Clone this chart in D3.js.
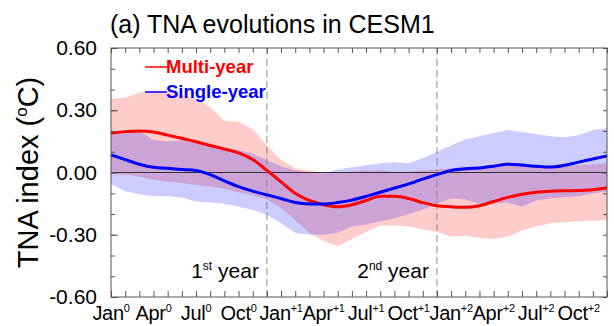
<!DOCTYPE html>
<meta charset="utf-8">
<style>
  body { margin: 0; background: #fff; }
  text { font-family: "Liberation Sans", Arial, Helvetica, sans-serif; }
</style>
<svg width="614" height="326"></svg>
<script src="https://d3js.org/d3.v7.min.js"></script>
<script>

// months 0..35 : Jan0 .. Dec+2
var multiYear = [0.19, 0.197, 0.20, 0.195, 0.18, 0.165, 0.148, 0.13, 0.113, 0.095, 0.063, 0.01,
  -0.045, -0.10, -0.135, -0.155, -0.165, -0.155, -0.135, -0.115, -0.115, -0.125, -0.145, -0.16,
  -0.165, -0.168, -0.16, -0.14, -0.12, -0.105, -0.095, -0.09, -0.088, -0.087, -0.083, -0.075];
var multiUpper = [0.355, 0.36, 0.385, 0.395, 0.39, 0.375, 0.355, 0.315, 0.25, 0.245, 0.21, 0.13,
  0.06, 0.02, 0.01, 0.0, -0.005, 0.005, 0.01, 0.01, 0.005, 0.005, 0.01, 0.015,
  0.02, 0.025, 0.03, 0.04, 0.05, 0.045, 0.035, 0.03, 0.03, 0.035, 0.04, 0.045];
var multiLower = [-0.005, -0.01, -0.02, -0.035, -0.045, -0.05, -0.06, -0.068, -0.08, -0.095, -0.11, -0.13,
  -0.17, -0.23, -0.29, -0.33, -0.355, -0.32, -0.285, -0.255, -0.255, -0.26, -0.275, -0.285,
  -0.31, -0.305, -0.315, -0.32, -0.31, -0.28, -0.26, -0.245, -0.24, -0.235, -0.232, -0.228];

var singleYear = [0.085, 0.062, 0.04, 0.025, 0.02, 0.015, 0.01, -0.01, -0.04, -0.068, -0.09, -0.108,
  -0.125, -0.145, -0.152, -0.152, -0.145, -0.133, -0.115, -0.095, -0.075, -0.055, -0.032, -0.01,
  0.01, 0.018, 0.022, 0.03, 0.04, 0.036, 0.03, 0.026, 0.035, 0.05, 0.065, 0.08];
var singleUpper = [0.195, 0.19, 0.2, 0.155, 0.15, 0.155, 0.14, 0.125, 0.118, 0.11, 0.09, 0.06,
  0.03, 0.01, 0.0, -0.005, 0.015, 0.025, 0.035, 0.045, 0.05, 0.045, 0.07, 0.1,
  0.13, 0.16, 0.175, 0.19, 0.205, 0.195, 0.185, 0.175, 0.17, 0.18, 0.205, 0.213];
var singleLower = [-0.055, -0.09, -0.105, -0.115, -0.115, -0.12, -0.14, -0.145, -0.15, -0.165, -0.18, -0.205,
  -0.245, -0.29, -0.3, -0.3, -0.29, -0.26, -0.25, -0.235, -0.22, -0.2, -0.18, -0.15,
  -0.125, -0.13, -0.15, -0.15, -0.145, -0.165, -0.135, -0.125, -0.118, -0.115, -0.1, -0.092];

var monthNames = ["Jan", "Apr", "Jul", "Oct"];
var yearSups = ["0", "+1", "+2"];
var yTicks = [-0.6, -0.3, 0, 0.3, 0.6];
var yearEnds = [11, 23];          // Dec0, Dec+1 dividers
var yearNames = [["1", "st"], ["2", "nd"]];

var svg = d3.select("svg"),
    margin = {top: 48, right: 7, bottom: 29, left: 111},
    width = +svg.attr("width") - margin.left - margin.right,
    height = +svg.attr("height") - margin.top - margin.bottom,
    g = svg.append("g").attr("transform", "translate(" + margin.left + "," + margin.top + ")");

var x = d3.scaleLinear().domain([0, 35]).range([0, width]);
var y = d3.scaleLinear().domain([-0.6, 0.6]).range([height, 0]);

var months = d3.range(multiYear.length);

var band = function(up, lo) {
  return d3.area()
    .x(function(i) { return x(i); })
    .y0(function(i) { return y(lo[i]); })
    .y1(function(i) { return y(up[i]); });
};
var line = function(v) {
  return d3.line()
    .x(function(i) { return x(i); })
    .y(function(i) { return y(v[i]); })
    .curve(d3.curveMonotoneX);
};

g.append("path").datum(months)
    .attr("fill", "#ff0000").attr("fill-opacity", 0.2)
    .attr("d", band(multiUpper, multiLower));
g.append("path").datum(months)
    .attr("fill", "#0000ff").attr("fill-opacity", 0.2)
    .attr("d", band(singleUpper, singleLower));

// zero line
g.append("line")
    .attr("x1", 0).attr("x2", width)
    .attr("y1", y(0)).attr("y2", y(0))
    .attr("stroke", "#333").attr("stroke-width", 1);

// year dividers
g.selectAll(".divider").data(yearEnds).enter().append("line")
    .attr("x1", function(d) { return x(d); }).attr("x2", function(d) { return x(d); })
    .attr("y1", 0).attr("y2", height)
    .attr("stroke", "#888").attr("stroke-width", 1)
    .attr("stroke-dasharray", "7,4");

g.append("path").datum(months)
    .attr("fill", "none").attr("stroke", "#ff0000").attr("stroke-width", 3)
    .attr("d", line(multiYear));
g.append("path").datum(months)
    .attr("fill", "none").attr("stroke", "#0000ff").attr("stroke-width", 3)
    .attr("d", line(singleYear));

// axes (ticks point inward)
var tickStyle = function(sel) {
  sel.select(".domain").remove();
  sel.selectAll("line").attr("stroke", "#555");
};
g.append("g").attr("transform", "translate(0," + height + ")")
    .call(d3.axisBottom(x).tickValues(months).tickSize(-6).tickFormat(""))
    .call(tickStyle);
g.append("g")
    .call(d3.axisTop(x).tickValues(months).tickSize(-5).tickFormat(""))
    .call(tickStyle);
g.append("g")
    .call(d3.axisLeft(y).ticks(12).tickSize(-4).tickFormat(""))
    .call(tickStyle);
g.append("g").attr("transform", "translate(" + width + ",0)")
    .call(d3.axisRight(y).ticks(12).tickSize(-4).tickFormat(""))
    .call(tickStyle);
g.append("g")
    .call(d3.axisLeft(y).tickValues(yTicks).tickSize(-7).tickPadding(14)
      .tickFormat(function(d) { return d.toFixed(2); }))
    .call(tickStyle)
    .selectAll("text").attr("font-size", 21).attr("fill", "#000")
    .style("font-family", "'Liberation Sans', Arial, sans-serif");

g.append("rect")
    .attr("width", width).attr("height", height)
    .attr("fill", "none").attr("stroke", "#555").attr("stroke-width", 1);

// month labels
var labels = [];
yearSups.forEach(function(s, yi) {
  monthNames.forEach(function(m, mi) { labels.push({pos: yi * 12 + mi * 3, name: m, sup: s}); });
});
var lt = g.selectAll(".mlabel").data(labels).enter().append("text")
    .attr("x", function(d) { return x(d.pos); })
    .attr("y", height + 23)
    .attr("text-anchor", "middle")
    .attr("font-size", 20)
    .attr("letter-spacing", -0.3);
lt.append("tspan").text(function(d) { return d.name; });
lt.append("tspan").attr("dy", -8).attr("font-size", 11).text(function(d) { return d.sup; });

// year names
var yt = g.selectAll(".yname").data(yearEnds).enter().append("text")
    .attr("x", function(d) { return x(d) - 8; })
    .attr("y", 230)
    .attr("text-anchor", "end")
    .attr("font-size", 21);
yt.append("tspan").text(function(d, i) { return yearNames[i][0]; });
yt.append("tspan").attr("dy", -8).attr("font-size", 12).text(function(d, i) { return yearNames[i][1]; });
yt.append("tspan").attr("dy", 8).text(" year");

// legend
var legend = [{name: "Multi-year", color: "#ff0000"}, {name: "Single-year", color: "#0000ff"}];
var lg = g.selectAll(".legend").data(legend).enter().append("g")
    .attr("transform", function(d, i) { return "translate(34," + (19 + i * 25) + ")"; });
lg.append("line").attr("x1", 0).attr("x2", 22)
    .attr("stroke", function(d) { return d.color; }).attr("stroke-width", 1.5);
lg.append("text").attr("x", 21).attr("y", 6)
    .attr("font-size", 18.5).attr("font-weight", "bold")
    .attr("fill", function(d) { return d.color; })
    .text(function(d) { return d.name; });

// title
svg.append("text").attr("x", 110).attr("y", 33)
    .attr("font-size", 25).text("(a) TNA evolutions in CESM1");

// y label
var yl = svg.append("text")
    .attr("transform", "translate(38," + (margin.top + height / 2) + ") rotate(-90)")
    .attr("text-anchor", "middle")
    .attr("font-size", 29);
yl.append("tspan").text("TNA index (");
yl.append("tspan").attr("dy", -11).attr("font-size", 17).text("o");
yl.append("tspan").attr("dy", 11).text("C)");

</script>
